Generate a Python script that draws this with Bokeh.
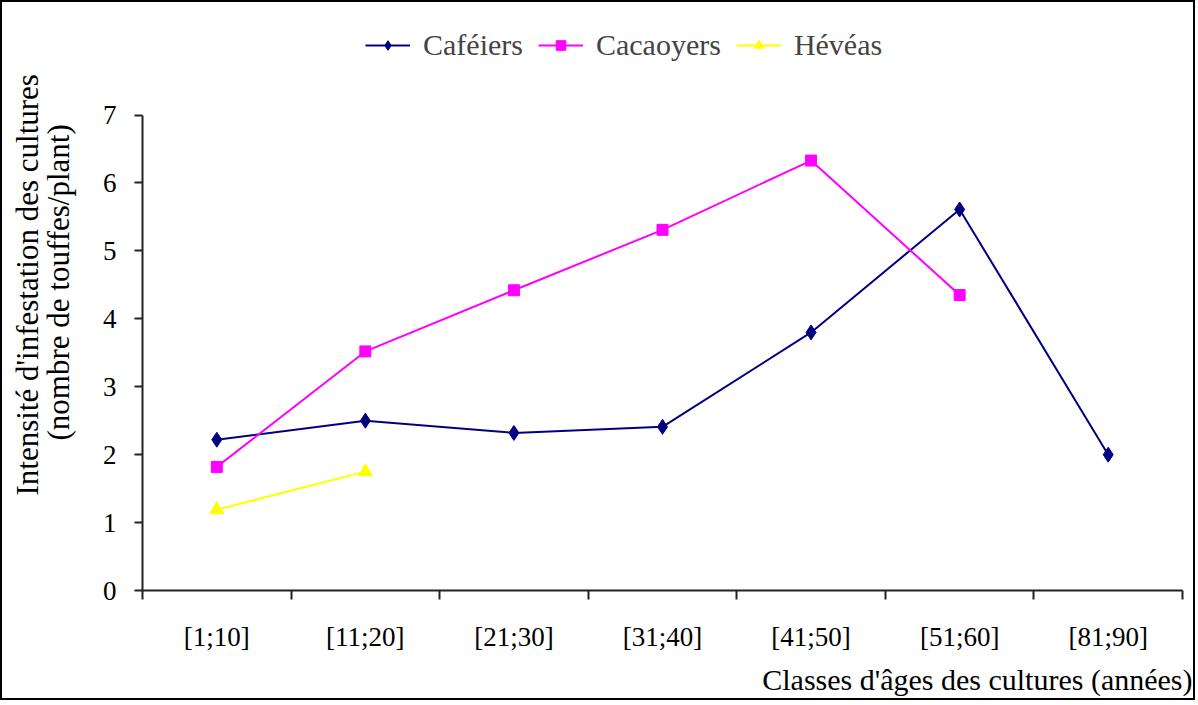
import math
from bokeh.plotting import figure
from bokeh.models import (FixedTicker, Range1d, Legend, LegendItem, Title)
from bokeh.embed import file_html
from bokeh.resources import INLINE

categories = ["[1;10]", "[11;20]", "[21;30]", "[31;40]", "[41;50]", "[51;60]", "[81;90]"]
cafeiers = [2.22, 2.50, 2.32, 2.41, 3.80, 5.61, 2.00]
cacaoyers = [1.82, 3.52, 4.42, 5.31, 6.33, 4.35]
heveas = [1.19, 1.75]

y_ticks = [0, 1, 2, 3, 4, 5, 6, 7]
x_title = "Classes d'âges des cultures (années)"
y_title_1 = "Intensité d'infestation des cultures"
y_title_2 = "(nombre de touffes/plant)"

FONT = "Liberation Serif"

# frame extends above the y axis to host the legend; axis drawn only 0..7
Y_TOP = 8.51

p = figure(width=1195, height=700, output_backend="svg", toolbar_location=None,
           x_range=Range1d(0, len(categories)), y_range=Range1d(0, Y_TOP),
           min_border_left=140, min_border_right=15, min_border_top=10,
           min_border_bottom=110)
p.title.visible = False
p.styles = {"border": "2px solid black"}
p.outline_line_color = None
p.grid.visible = False
p.background_fill_color = "white"
p.border_fill_color = "white"

centers = [i + 0.5 for i in range(len(categories))]
bounds = list(range(len(categories) + 1))

xa = p.xaxis[0]
xa.ticker = FixedTicker(ticks=centers, minor_ticks=bounds)
xa.major_label_overrides = {c: lab for c, lab in zip(centers, categories)}
xa.major_tick_out = 0
xa.major_tick_in = 0
xa.minor_tick_out = 9
xa.minor_tick_in = 0
xa.minor_tick_line_width = 2
xa.minor_tick_line_color = "#222222"
xa.axis_line_width = 2
xa.axis_line_color = "#222222"
xa.major_label_standoff = 22
xa.major_label_text_font = FONT
xa.major_label_text_font_size = "27px"
xa.major_label_text_color = "black"

ya = p.yaxis[0]
ya.ticker = FixedTicker(ticks=y_ticks, minor_ticks=[])
ya.bounds = (y_ticks[0], y_ticks[-1])
ya.major_tick_out = 8
ya.major_tick_in = 0
ya.major_tick_line_width = 2
ya.major_tick_line_color = "#222222"
ya.axis_line_width = 2
ya.axis_line_color = "#222222"
ya.major_label_standoff = 18
ya.major_label_text_font = FONT
ya.major_label_text_font_size = "27px"
ya.major_label_text_color = "black"

series = [
    ("Caféiers", cafeiers, "#000080", "diamond", 15),
    ("Cacaoyers", cacaoyers, "#FF00FF", "square", 11),
    ("Hévéas", heveas, "#FFFF00", "triangle", 14),
]
items = []
for name, vals, color, marker, size in series:
    xs = centers[:len(vals)]
    r1 = p.line(xs, vals, line_color=color, line_width=2)
    r2 = p.scatter(xs, vals, marker=marker, size=size,
                   fill_color=color, line_color=color)
    items.append(LegendItem(label=name, renderers=[r1, r2]))

legend = Legend(items=items, orientation="horizontal", location=(223, 528),
                label_text_font=FONT, label_text_font_size="30px",
                glyph_width=45, glyph_height=24, label_standoff=13, spacing=15,
                padding=0, margin=0, border_line_color=None,
                background_fill_alpha=0)
p.add_layout(legend, "center")

p.add_layout(Title(text=y_title_2, align="left", offset=150, standoff=47,
                   text_font=FONT, text_font_size="31px",
                   text_font_style="normal", text_color="black"), "left")
p.add_layout(Title(text=y_title_1, align="left", offset=95, standoff=-58,
                   text_font=FONT, text_font_size="31px",
                   text_font_style="normal", text_color="black"), "left")
p.add_layout(Title(text=x_title, align="right", offset=-10, standoff=13,
                   text_font=FONT, text_font_size="30px",
                   text_font_style="normal", text_color="black"), "below")

open("out.html", "w").write(file_html(p, INLINE))
